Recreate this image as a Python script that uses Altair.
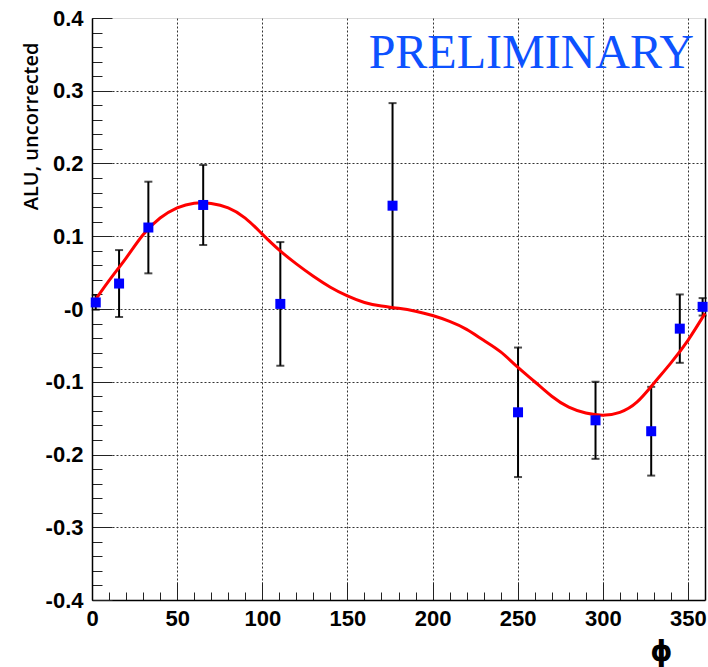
import altair as alt
import pandas as pd

# ---- data points ----
phi_pts = [2.2, 15.9, 33.1, 65.3, 110.6, 176.5, 250.2, 295.7, 328.4, 345.2, 358.6]
alu_pts = [0.009, 0.035, 0.112, 0.143, 0.007, 0.142, -0.142, -0.153, -0.168, -0.027, 0.003]
alu_err = [0.010, 0.046, 0.063, 0.055, 0.085, 0.141, 0.089, 0.053, 0.061, 0.047, 0.012]

# ---- fit curve ----
curve_phi = [0, 10, 20, 30, 40, 50, 60, 70, 80, 90, 100, 110, 120, 130, 140, 150, 160, 170,
             180, 190, 200, 210, 220, 230, 240, 250, 260, 270, 280, 290, 300, 310, 320, 330,
             340, 350, 360]
curve_alu = [0.006, 0.039, 0.070, 0.102, 0.125, 0.139, 0.1455, 0.145, 0.139, 0.125, 0.103,
             0.081, 0.062, 0.045, 0.030, 0.018, 0.009, 0.004, 0.001, -0.003, -0.009, -0.017,
             -0.028, -0.043, -0.059, -0.080, -0.100, -0.120, -0.135, -0.143, -0.146, -0.142,
             -0.128, -0.102, -0.074, -0.043, -0.006]

x_major = [0, 50, 100, 150, 200, 250, 300, 350]
x_minor = list(range(10, 360, 10))
x_grid = [50, 100, 150, 200, 250, 300, 350]
y_major = [-0.4, -0.3, -0.2, -0.1, 0.0, 0.1, 0.2, 0.3, 0.4]
y_minor = [round(-0.4 + 0.02 * i, 2) for i in range(41)]
y_grid = [-0.3, -0.2, -0.1, 0.0, 0.1, 0.2, 0.3]

label_text = ["PRELIMINARY"]
label_phi = [258]
label_alu = [0.35]

pts = pd.DataFrame({"phi": phi_pts, "alu": alu_pts, "err": alu_err})
pts["lo"] = pts["alu"] - pts["err"]
pts["hi"] = pts["alu"] + pts["err"]
caps = pd.DataFrame({"phi": phi_pts + phi_pts,
                     "y": list(pts["lo"]) + list(pts["hi"])})
curve = pd.DataFrame({"phi": curve_phi, "alu": curve_alu})
ann = pd.DataFrame({"phi": label_phi, "alu": label_alu, "t": label_text})

sx = alt.Scale(domain=[0, 360], nice=False, zero=False)
sy = alt.Scale(domain=[-0.4, 0.4], nice=False, zero=False)

LBL_FONT = "Liberation Sans"

# grid layer (dotted lines)
grid = alt.Chart(pts).mark_point(opacity=0).encode(
    x=alt.X("phi:Q", scale=sx, axis=alt.Axis(orient="bottom", values=x_grid, grid=True, gridDash=[2, 2],
            gridColor="#333", gridWidth=1, ticks=False, labels=False, domain=False, title=None)),
    y=alt.Y("alu:Q", scale=sy, axis=alt.Axis(orient="left", values=y_grid, grid=True, gridDash=[2, 2],
            gridColor="#333", gridWidth=1, ticks=False, labels=False, domain=False, title=None)),
)

# error bars
bars = alt.Chart(pts).mark_rule(color="black", strokeWidth=2).encode(
    x=alt.X("phi:Q", scale=sx, axis=None),
    y=alt.Y("lo:Q", scale=sy, axis=None),
    y2="hi:Q",
)
cap_marks = alt.Chart(caps).mark_tick(color="black", thickness=2, size=8, orient="horizontal").encode(
    x=alt.X("phi:Q", scale=sx, axis=None),
    y=alt.Y("y:Q", scale=sy, axis=None),
)

# curve with labelled axes
line = alt.Chart(curve).mark_line(color="#ff0000", strokeWidth=3, interpolate="natural").encode(
    x=alt.X("phi:Q", scale=sx, axis=alt.Axis(
        orient="bottom",
        values=x_major, grid=False, ticks=False, tickSize=0, domain=True, domainColor="black",
        domainWidth=1.5, labelFont=LBL_FONT, labelFontSize=22, labelFontWeight="bold",
        labelColor="black", labelPadding=8, labelFlush=False, format="d",
        title="ϕ", titleFont="DejaVu Sans", titleFontSize=28, titleFontWeight="bold",
        titleColor="black", titleX=569, titleY=52, titleAlign="center", titleBaseline="middle")),
    y=alt.Y("alu:Q", scale=sy, axis=alt.Axis(
        orient="left",
        values=y_major, grid=False, ticks=False, tickSize=0, domain=True, domainColor="black",
        domainWidth=1.5, labelFont=LBL_FONT, labelFontSize=22, labelFontWeight="bold",
        labelColor="black", labelPadding=9, labelFlush=False,
        labelExpr="abs(datum.value) < 1e-9 ? '-0' : ((datum.value < 0 ? '-' : '') + format(abs(datum.value), '.1f'))",
        title="ALU, uncorrected", titleFont="Open Sans", titleFontSize=20,
        titleFontWeight=600, titleColor="black", titleX=-55, titleY=24,
        titleAngle=270, titleAlign="right", titleBaseline="alphabetic")),
)

# markers
marks = alt.Chart(pts).mark_square(size=100, color="#0000ff", opacity=1).encode(
    x=alt.X("phi:Q", scale=sx, axis=None),
    y=alt.Y("alu:Q", scale=sy, axis=None),
)

# inward major ticks
major_ticks = alt.Chart(pts).mark_point(opacity=0).encode(
    x=alt.X("phi:Q", scale=sx, axis=alt.Axis(orient="bottom", values=x_major, offset=-18, tickSize=18,
            tickColor="#222", tickWidth=1, labels=False, domain=False, grid=False, title=None)),
    y=alt.Y("alu:Q", scale=sy, axis=alt.Axis(orient="left", values=y_major, offset=-20, tickSize=20,
            tickColor="#222", tickWidth=1, labels=False, domain=False, grid=False, title=None)),
)
# inward minor ticks
minor_ticks = alt.Chart(pts).mark_point(opacity=0).encode(
    x=alt.X("phi:Q", scale=sx, axis=alt.Axis(orient="bottom", values=x_minor, offset=-8, tickSize=8,
            tickColor="#222", tickWidth=1, labels=False, domain=False, grid=False, title=None)),
    y=alt.Y("alu:Q", scale=sy, axis=alt.Axis(orient="left", values=y_minor, offset=-10, tickSize=10,
            tickColor="#222", tickWidth=1, labels=False, domain=False, grid=False, title=None)),
)
# right frame line
right_frame = alt.Chart(pts).mark_point(opacity=0).encode(
    x=alt.X("phi:Q", scale=sx, axis=None),
    y=alt.Y("alu:Q", scale=sy, axis=alt.Axis(orient="right", values=[], ticks=False,
            labels=False, domain=True, domainColor="black", domainWidth=1.5, grid=False, title=None)),
)

text = alt.Chart(ann).mark_text(font="Liberation Serif", fontSize=48, color="#0d52ff",
                                align="center", baseline="middle").encode(
    x=alt.X("phi:Q", scale=sx, axis=None),
    y=alt.Y("alu:Q", scale=sy, axis=None),
    text="t:N",
)

chart = alt.layer(grid, major_ticks, minor_ticks, right_frame, bars, cap_marks, line, marks, text).resolve_axis(
    x="independent", y="independent"
).properties(
    width=613, height=582,
    padding={"left": 92, "top": 18, "right": 3, "bottom": 67},
    autosize=alt.AutoSizeParams(type="none"),
).configure_view(stroke=None).configure(background="white")

chart.save("out.html", embed_options={"renderer": "svg", "actions": False})
